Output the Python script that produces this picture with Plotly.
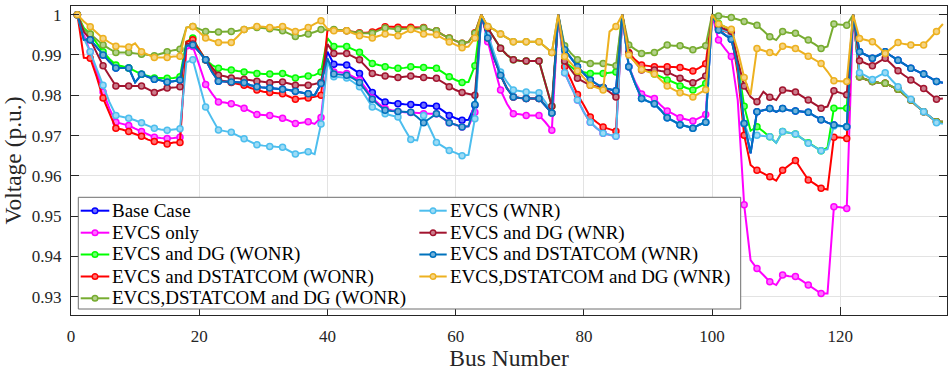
import plotly.graph_objects as go

buses = list(range(1, 137))

base_case = [
    1.0000, .9938, .9938, .9919, .9900, .9883, .9868, .9868, .9868, .9832, .9852, .9846, .9840, .9837, .9833, .9835, .9838,
    .9923, .9925, .9908, .9888, .9858, .9835, .9834, .9833, .9833, .9831, .9825, .9821, .9819, .9818, .9817, .9815, .9813, .9810, .9807, .9804, .9800, .9829,
    .9908, .9877, .9876, .9875, .9865, .9854, .9831, .9807, .9793, .9783, .9781, .9779, .9778, .9777, .9776, .9775, .9773, .9773, .9762, .9750, .9743, .9738, .9739, .9775,
    1.0000, .9942, .9892, .9850, .9817, .9796, .9793, .9792, .9792, .9792, .9775, .9756,
    1.0000, .9913, .9892, .9871, .9854, .9838, .9828, .9819, .9815, .9811,
    1.0000, .9871, .9829, .9792, .9785, .9779, .9763, .9744, .9736, .9727, .9723, .9718, .9727, .9733,
    1.0000, .9962, .9950, .9939, .9871, .9730, .9656, .9759, .9763, .9767, .9759, .9767, .9763, .9761, .9759, .9758, .9748, .9739, .9732, .9726, .9724, .9722,
    1.0000, .9908, .9900, .9892, .9900, .9908, .9897, .9887, .9878, .9867, .9860, .9853, .9844, .9834, .9831,
]

evcs_only = [
    1.0000, .9950, .9908, .9858, .9808, .9767, .9733, .9729, .9725, .9717, .9710, .9702, .9696, .9694, .9693, .9694, .9696,
    .9915, .9921, .9875, .9827, .9804, .9783, .9782, .9779, .9775, .9768, .9760, .9752, .9751, .9750, .9747, .9743, .9737, .9730, .9732, .9734, .9729, .9745,
    .9888, .9858, .9857, .9854, .9846, .9838, .9817, .9793, .9779, .9767, .9763, .9760, .9758, .9757, .9756, .9754, .9754, .9754, .9743, .9732, .9727, .9721, .9723, .9758,
    1.0000, .9933, .9871, .9813, .9779, .9754, .9753, .9750, .9750, .9750, .9733, .9713,
    1.0000, .9856, .9821, .9788, .9758, .9733, .9718, .9706, .9702, .9698,
    1.0000, .9871, .9833, .9803, .9798, .9792, .9775, .9761, .9753, .9744, .9740, .9736, .9744, .9752,
    1.0000, .9937, .9916, .9896, .9788, .9528, .9391, .9370, .9354, .9337, .9329, .9354, .9351, .9350, .9340, .9329, .9318, .9308, .9308, .9523, .9522, .9519,
    1.0000, .9846, .9839, .9834, .9831, .9830, .9822, .9815, .9801, .9788, .9773, .9759, .9747, .9734, .9734,
]

evcs_dg_wonr = [
    1.0000, .9967, .9952, .9929, .9908, .9890, .9875, .9872, .9868, .9860, .9852, .9848, .9843, .9843, .9842, .9843, .9846,
    .9933, .9942, .9913, .9888, .9875, .9867, .9864, .9863, .9860, .9858, .9856, .9854, .9853, .9853, .9853, .9854, .9848, .9843, .9846, .9848, .9850, .9858,
    .9942, .9921, .9921, .9921, .9914, .9907, .9893, .9879, .9875, .9871, .9868, .9867, .9868, .9871, .9870, .9869, .9868, .9867, .9857, .9846, .9838, .9832, .9833, .9873,
    1.0000, .9967, .9942, .9917, .9900, .9888, .9886, .9885, .9885, .9885, .9829, .9773,
    1.0000, .9883, .9871, .9858, .9857, .9854, .9854, .9854, .9856, .9858,
    1.0000, .9904, .9883, .9867, .9860, .9853, .9846, .9838, .9831, .9823, .9818, .9813, .9821, .9829,
    1.0000, .9978, .9970, .9960, .9879, .9773, .9712, .9722, .9710, .9697, .9682, .9710, .9707, .9704, .9693, .9682, .9672, .9662, .9670, .9768, .9768, .9768,
    1.0000, .9846, .9839, .9834, .9831, .9830, .9822, .9815, .9801, .9788, .9773, .9759, .9747, .9734, .9734,
]

evcs_dstatcom_wonr = [
    1.0000, .9893, .9892, .9846, .9793, .9754, .9718, .9715, .9710, .9704, .9698, .9690, .9685, .9683, .9679, .9683, .9683,
    .9933, .9938, .9913, .9888, .9863, .9838, .9835, .9832, .9828, .9825, .9818, .9813, .9809, .9807, .9806, .9804, .9797, .9790, .9792, .9793, .9796, .9800,
    .9962, .9962, .9961, .9960, .9957, .9955, .9955, .9957, .9965, .9970, .9970, .9969, .9969, .9969, .9968, .9968, .9963, .9960, .9950, .9942, .9935, .9929, .9932, .9955,
    1.0000, .9942, .9892, .9850, .9817, .9796, .9793, .9792, .9792, .9792, .9775, .9756,
    1.0000, .9871, .9838, .9802, .9775, .9746, .9733, .9721, .9716, .9711,
    1.0000, .9906, .9888, .9875, .9873, .9871, .9871, .9871, .9870, .9869, .9865, .9860, .9868, .9878,
    1.0000, .9964, .9959, .9954, .9854, .9701, .9627, .9614, .9606, .9598, .9588, .9614, .9627, .9638, .9614, .9590, .9580, .9569, .9566, .9696, .9695, .9693,
    1.0000, .9846, .9839, .9834, .9831, .9830, .9822, .9815, .9801, .9788, .9773, .9759, .9747, .9734, .9734,
]

evcs_dstatcom_dg_wonr = [
    1.0000, .9963, .9952, .9938, .9925, .9915, .9906, .9906, .9906, .9904, .9902, .9900, .9898, .9903, .9908, .9912, .9914,
    .9968, .9971, .9965, .9958, .9957, .9957, .9958, .9958, .9960, .9963, .9967, .9968, .9967, .9965, .9963, .9960, .9953, .9946, .9948, .9952, .9957, .9963,
    .9963, .9963, .9962, .9960, .9957, .9954, .9954, .9954, .9961, .9967, .9965, .9964, .9965, .9965, .9966, .9967, .9963, .9960, .9950, .9942, .9935, .9929, .9932, .9954,
    1.0000, .9971, .9963, .9952, .9943, .9933, .9933, .9933, .9933, .9933, .9920, .9906,
    1.0000, .9923, .9904, .9888, .9883, .9879, .9879, .9879, .9876, .9873,
    1.0000, .9925, .9914, .9904, .9905, .9906, .9915, .9925, .9923, .9923, .9918, .9913, .9918, .9923,
    1.0000, .9997, .9995, .9993, .9988, .9983, .9978, .9974, .9960, .9945, .9937, .9958, .9955, .9954, .9945, .9937, .9927, .9916, .9921, .9977, .9976, .9974,
    1.0000, .9846, .9839, .9834, .9831, .9830, .9822, .9815, .9801, .9788, .9773, .9759, .9747, .9734, .9734,
]

evcs_wnr = [
    1.0000, .9942, .9908, .9867, .9825, .9783, .9750, .9747, .9743, .9738, .9732, .9725, .9718, .9715, .9713, .9715, .9717,
    .9882, .9888, .9829, .9771, .9742, .9714, .9711, .9708, .9700, .9692, .9683, .9677, .9675, .9673, .9672, .9671, .9663, .9654, .9657, .9660, .9654, .9729,
    .9883, .9846, .9845, .9843, .9833, .9821, .9796, .9771, .9763, .9754, .9750, .9746, .9717, .9690, .9688, .9750, .9717, .9683, .9673, .9663, .9657, .9650, .9652, .9742,
    1.0000, .9950, .9904, .9858, .9833, .9813, .9810, .9808, .9807, .9806, .9783, .9756,
    1.0000, .9856, .9821, .9788, .9758, .9733, .9718, .9706, .9702, .9698,
    1.0000, .9871, .9829, .9792, .9785, .9779, .9763, .9744, .9736, .9727, .9723, .9718, .9727, .9733,
    1.0000, .9966, .9960, .9954, .9871, .9730, .9689, .9701, .9699, .9697, .9682, .9710, .9707, .9704, .9693, .9681, .9672, .9662, .9666, .9724, .9723, .9722,
    1.0000, .9856, .9848, .9839, .9848, .9856, .9838, .9821, .9805, .9790, .9773, .9759, .9747, .9732, .9729,
]

evcs_dg_wnr = [
    1.0000, .9958, .9938, .9906, .9873, .9848, .9823, .9823, .9823, .9823, .9823, .9815, .9807, .9813, .9818, .9819, .9821,
    .9929, .9927, .9908, .9888, .9867, .9850, .9847, .9843, .9842, .9840, .9838, .9835, .9833, .9831, .9833, .9833, .9829, .9825, .9825, .9825, .9828, .9832,
    .9927, .9904, .9904, .9904, .9896, .9888, .9871, .9854, .9850, .9848, .9846, .9844, .9846, .9848, .9846, .9844, .9843, .9842, .9832, .9821, .9813, .9807, .9803, .9800,
    1.0000, .9967, .9942, .9917, .9900, .9888, .9886, .9885, .9885, .9885, .9829, .9773,
    1.0000, .9885, .9863, .9842, .9833, .9825, .9822, .9819, .9808, .9796,
    1.0000, .9904, .9882, .9863, .9863, .9863, .9860, .9858, .9850, .9842, .9836, .9831, .9839, .9848,
    1.0000, .9970, .9964, .9958, .9887, .9823, .9796, .9784, .9809, .9795, .9788, .9813, .9811, .9808, .9798, .9788, .9778, .9768, .9772, .9811, .9806, .9801,
    1.0000, .9886, .9879, .9873, .9883, .9892, .9877, .9861, .9849, .9838, .9828, .9817, .9803, .9790, .9792,
]

evcs_dstatcom_wnr = [
    1.0000, .9938, .9938, .9919, .9900, .9883, .9868, .9868, .9868, .9832, .9852, .9846, .9840, .9837, .9833, .9835, .9838,
    .9923, .9925, .9908, .9888, .9858, .9835, .9834, .9833, .9833, .9831, .9825, .9821, .9819, .9818, .9817, .9815, .9813, .9810, .9807, .9804, .9800, .9829,
    .9892, .9853, .9851, .9850, .9842, .9832, .9811, .9790, .9775, .9763, .9761, .9760, .9759, .9758, .9746, .9732, .9743, .9754, .9743, .9732, .9727, .9721, .9723, .9777,
    1.0000, .9942, .9892, .9850, .9817, .9796, .9793, .9792, .9792, .9792, .9775, .9756,
    1.0000, .9913, .9892, .9871, .9854, .9838, .9828, .9819, .9815, .9811,
    1.0000, .9871, .9829, .9792, .9785, .9779, .9763, .9744, .9736, .9727, .9723, .9718, .9727, .9733,
    1.0000, .9962, .9950, .9939, .9871, .9730, .9656, .9759, .9763, .9767, .9759, .9767, .9763, .9761, .9759, .9758, .9748, .9739, .9732, .9726, .9724, .9722,
    1.0000, .9908, .9900, .9892, .9900, .9908, .9897, .9887, .9878, .9867, .9860, .9853, .9844, .9834, .9831,
]

evcs_dstatcom_dg_wnr = [
    1.0000, .9983, .9970, .9955, .9941, .9931, .9922, .9921, .9920, .9929, .9908, .9901, .9894, .9894, .9894, .9896, .9897,
    .9968, .9971, .9957, .9942, .9936, .9931, .9931, .9931, .9946, .9963, .9967, .9971, .9970, .9968, .9969, .9971, .9965, .9958, .9963, .9968, .9977, .9985,
    .9965, .9960, .9960, .9960, .9954, .9948, .9945, .9942, .9947, .9952, .9950, .9948, .9955, .9963, .9958, .9952, .9951, .9950, .9941, .9932, .9925, .9918, .9921, .9942,
    1.0000, .9971, .9963, .9952, .9943, .9933, .9933, .9933, .9933, .9933, .9920, .9906,
    1.0000, .9896, .9879, .9860, .9843, .9825, .9819, .9813, .9958, .9971,
    1.0000, .9900, .9882, .9864, .9858, .9853, .9838, .9823, .9814, .9806, .9801, .9796, .9805, .9814,
    1.0000, .9977, .9970, .9964, .9912, .9844, .9801, .9916, .9911, .9906, .9900, .9922, .9920, .9916, .9907, .9897, .9888, .9879, .9859, .9836, .9835, .9834,
    1.0000, .9941, .9937, .9933, .9919, .9904, .9917, .9931, .9927, .9925, .9925, .9925, .9941, .9958, .9977,
]

series_names = [
    "Base Case", "EVCS only", "EVCS and DG (WONR)", "EVCS and DSTATCOM (WONR)",
    "EVCS,DSTATCOM and DG (WONR)", "EVCS (WNR)", "EVCS and DG (WNR)",
    "EVCS and DSTATCOM (WNR)", "EVCS,DSTATCOM and DG (WNR)",
]
series_values = [
    base_case, evcs_only, evcs_dg_wonr, evcs_dstatcom_wonr, evcs_dstatcom_dg_wonr,
    evcs_wnr, evcs_dg_wnr, evcs_dstatcom_wnr, evcs_dstatcom_dg_wnr,
]
series_colors = [
    "#0000FF", "#FF00FF", "#00FF00", "#FF0000", "#77AC30",
    "#4DBEEE", "#A2142F", "#0072BD", "#EDB120",
]

x_ticks = [0, 20, 40, 60, 80, 100, 120]
y_ticks = [0.93, 0.94, 0.95, 0.96, 0.97, 0.98, 0.99, 1.0]
y_tick_labels = ["0.93", "0.94", "0.95", "0.96", "0.97", "0.98", "0.99", "1"]

FONT = "Liberation Serif"


def tint(hex_color, f=0.45):
    h = hex_color.lstrip("#")
    r, g, b = (int(h[i:i + 2], 16) for i in (0, 2, 4))
    r, g, b = (int(c + (255 - c) * f) for c in (r, g, b))
    return f"rgb({r},{g},{b})"


marker_opacity = [1 if b % 2 == 1 else 0 for b in buses]

fig = go.Figure()
for name, vals, col in zip(series_names, series_values, series_colors):
    fig.add_trace(go.Scatter(
        x=buses, y=vals, name=name, mode="lines+markers",
        line=dict(color=col, width=2),
        marker=dict(symbol="circle", size=6, color=tint(col),
                    line=dict(color=col, width=1.5), opacity=marker_opacity),
        showlegend=False, hoverinfo="x+y+name",
    ))

W, H = 948, 371
ML, MR, MT, MB = 71, 1, 6, 56
PW, PH = W - ML - MR, H - MT - MB


def px2paper(px, py):
    return (px - ML) / PW, (H - MB - py) / PH


shapes = []
annotations = []
bx0, by0 = px2paper(78.3, 309.0)
bx1, by1 = px2paper(740.7, 197.3)
shapes.append(dict(type="rect", xref="paper", yref="paper", x0=bx0, x1=bx1, y0=by0, y1=by1,
                   fillcolor="white", line=dict(color="#6e6e6e", width=1), layer="above"))

row_y = [210.7, 232.7, 254.5, 276.5, 298.3]
columns = [(80.7, 109.3, 95.0, 111.0), (419.3, 446.7, 433.0, 449.0)]
for i, (name, col) in enumerate(zip(series_names, series_colors)):
    c = 0 if i < 5 else 1
    r = i if i < 5 else i - 5
    lx0, lx1, mx, tx = columns[c]
    py = row_y[r]
    ax0, ay = px2paper(lx0, py)
    ax1, _ = px2paper(lx1, py)
    amx, _ = px2paper(mx, py)
    atx, _ = px2paper(tx, py)
    shapes.append(dict(type="line", xref="paper", yref="paper", x0=ax0, x1=ax1, y0=ay, y1=ay,
                       line=dict(color=col, width=2), layer="above"))
    shapes.append(dict(type="circle", xref="paper", yref="paper", xsizemode="pixel", ysizemode="pixel",
                       xanchor=amx, yanchor=ay, x0=-2.8, x1=2.8, y0=-2.8, y1=2.8,
                       fillcolor=tint(col), line=dict(color=col, width=1.5), layer="above"))
    annotations.append(dict(xref="paper", yref="paper", x=atx, y=ay, text=name, showarrow=False,
                            xanchor="left", yanchor="middle", borderpad=0,
                            font=dict(family=FONT, size=19, color="#000000")))

axis_common = dict(
    showline=True, linecolor="#262626", linewidth=1, mirror="ticks",
    ticks="inside", ticklen=8, tickwidth=1, tickcolor="#262626",
    showgrid=True, gridcolor="#e3e3e3", gridwidth=1, zeroline=False,
    tickfont=dict(family=FONT, size=17, color="#262626"),
)

fig.update_layout(
    width=W, height=H, margin=dict(l=ML, r=MR, t=MT, b=MB),
    paper_bgcolor="white", plot_bgcolor="white",
    font=dict(family=FONT),
    shapes=shapes, annotations=annotations, showlegend=False,
    xaxis=dict(range=[0, 136.64], tickvals=x_ticks, ticklabelstandoff=6,
               title=dict(text="Bus Number", font=dict(family=FONT, size=23.5, color="#262626"), standoff=4),
               **axis_common),
    yaxis=dict(range=[0.92546, 1.00216], tickvals=y_ticks, ticktext=y_tick_labels, ticklabelstandoff=5,
               title=dict(text="Voltage (p.u.)", font=dict(family=FONT, size=23.5, color="#262626"), standoff=6),
               **axis_common),
)

fig.write_html("out.html")
